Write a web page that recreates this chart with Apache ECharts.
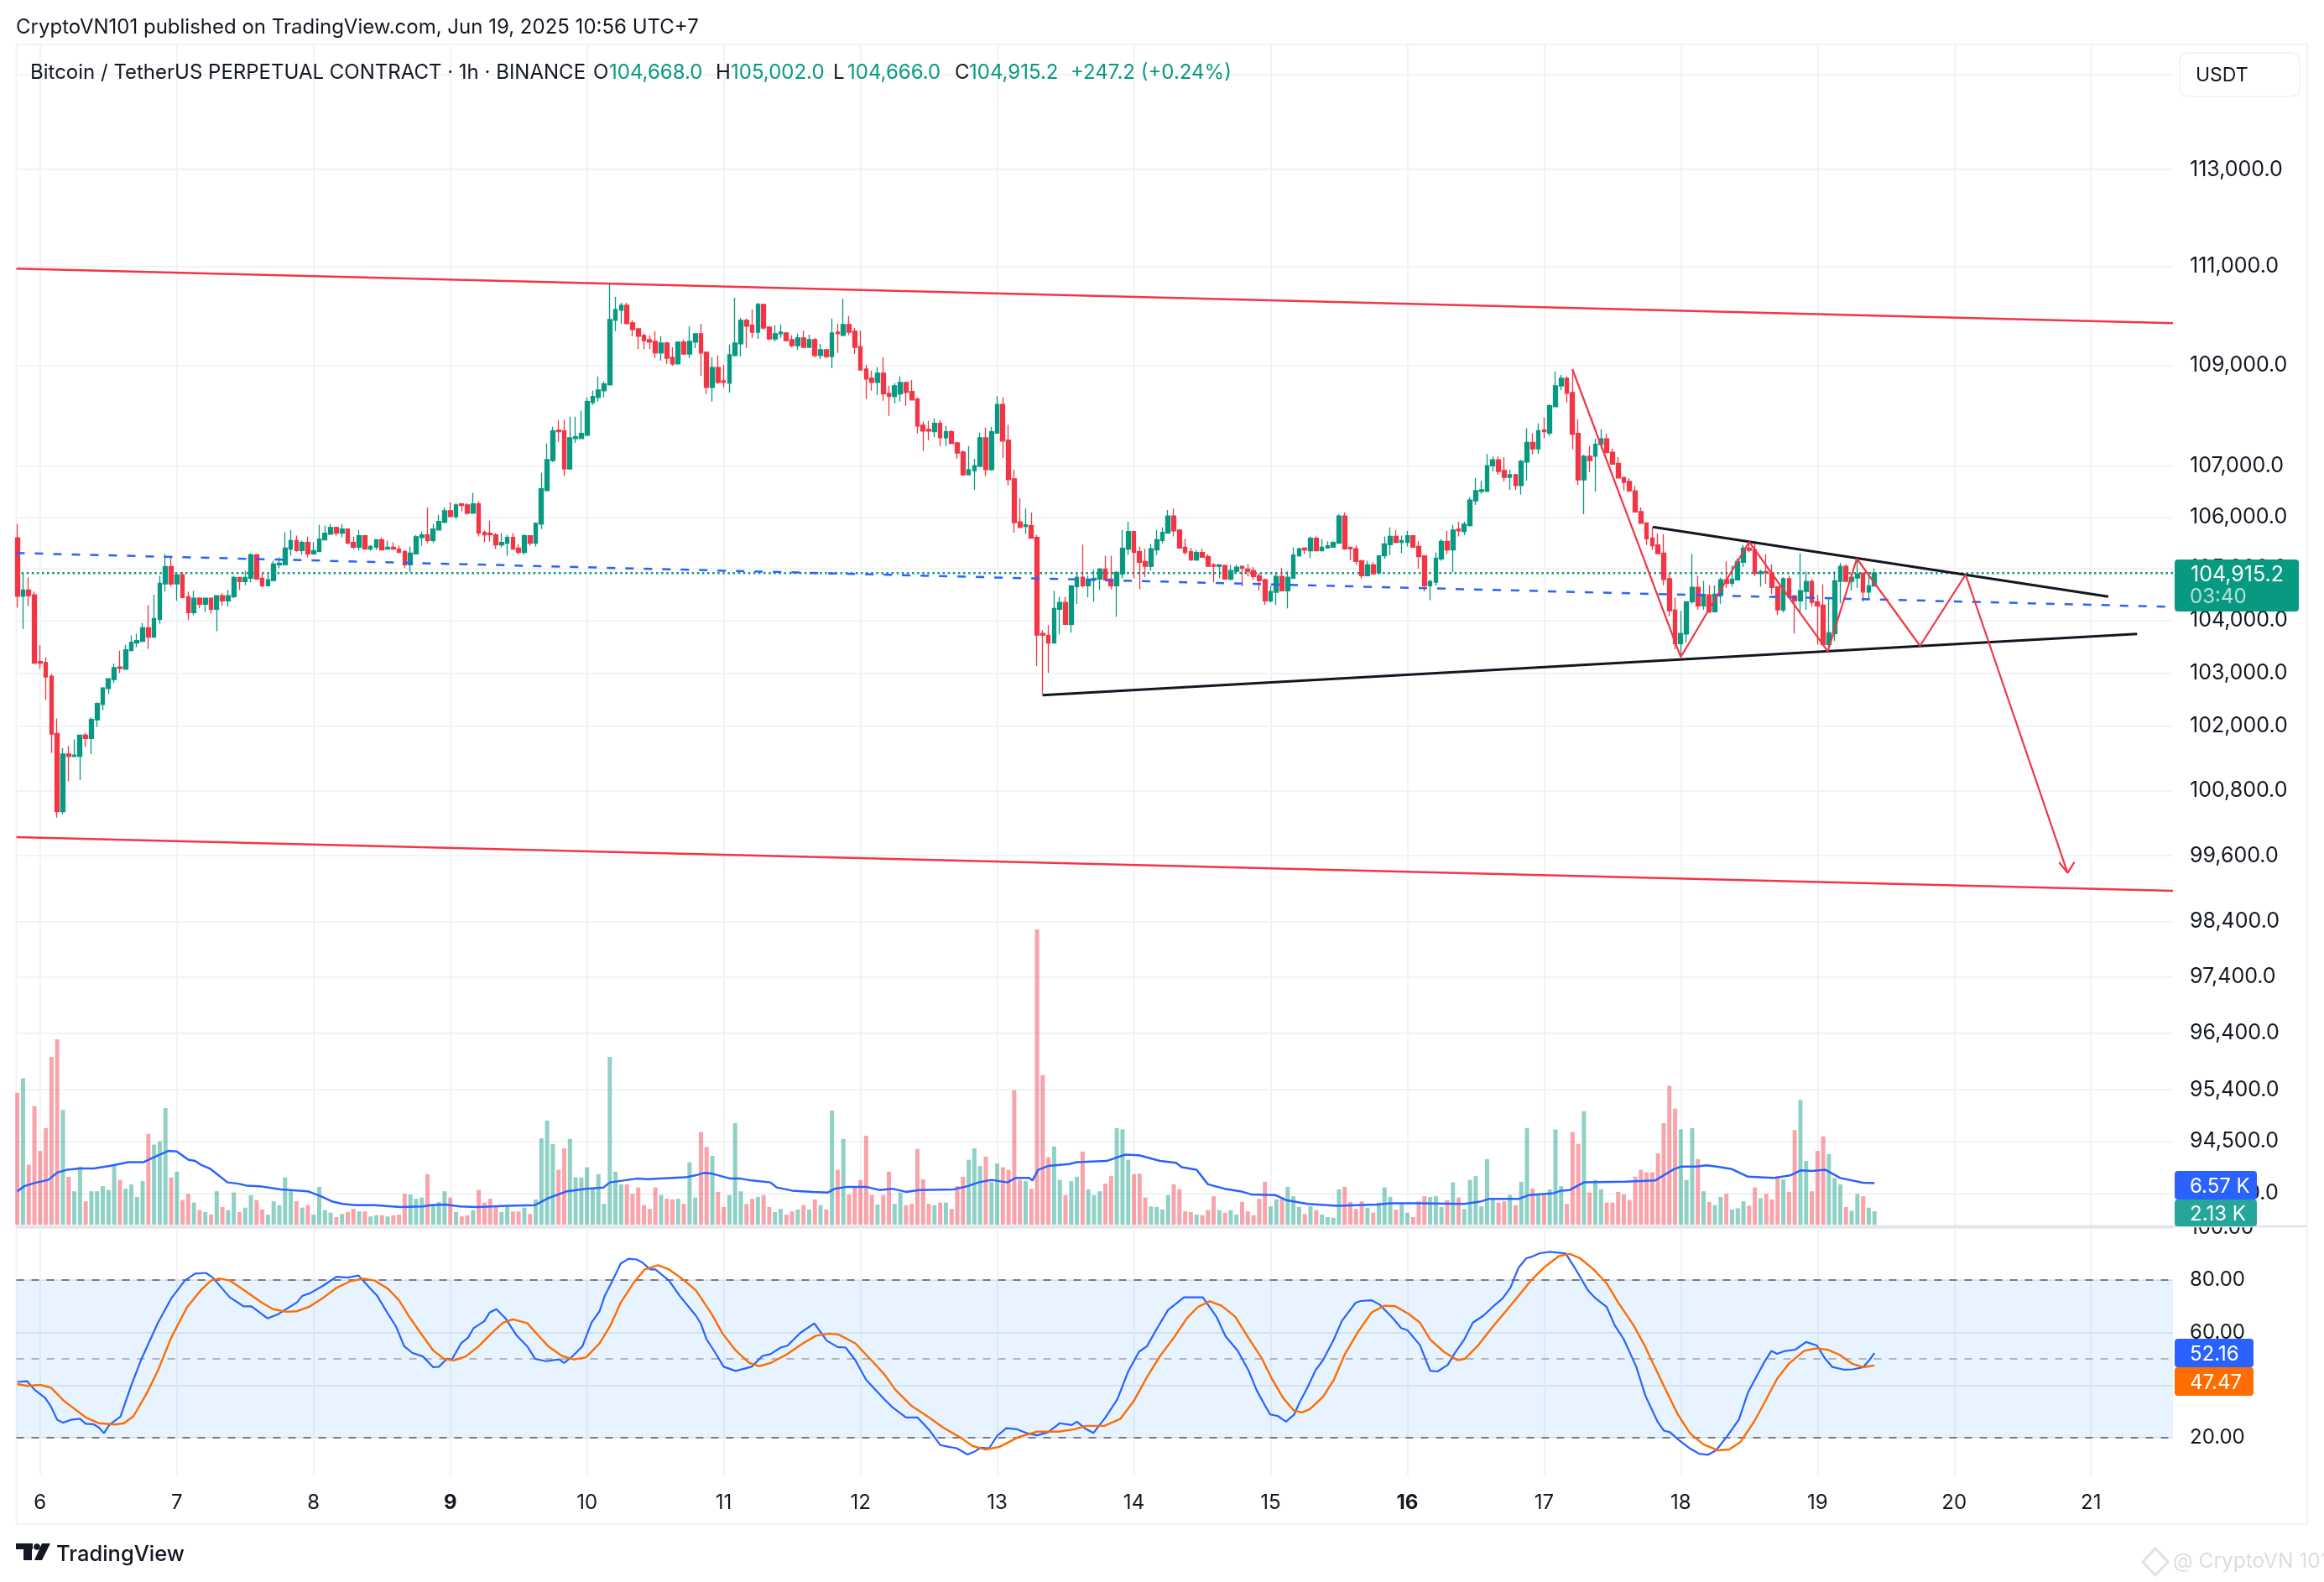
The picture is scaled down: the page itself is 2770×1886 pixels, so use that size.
<!DOCTYPE html>
<html><head><meta charset="utf-8">
<style>html,body{margin:0;padding:0;background:#fff}#c{width:2770px;height:1886px}</style>
<script src="https://cdn.jsdelivr.net/npm/echarts@6/dist/echarts.min.js"></script>
</head><body><div id="c"></div>
<script>
// First candle is hour -4 relative to Jun 6 00:00 (UTC+7). Rows: open, high, low, close
const firstHour = -4;
const candleRows = [
[105600,105865,104250,104470],[104470,104925,103840,104590],[104590,104830,104280,104480],[104495,104560,103175,103190],
[103220,103535,103080,103190],[103200,103300,102490,102930],[102945,102985,101500,101855],[101865,102145,100300,100410],
[100410,101590,100360,101480],[101480,101635,100970,101435],[101435,101755,101420,101460],[101435,101840,100995,101835],
[101835,101875,101610,101770],[101770,102165,101480,102130],[102120,102450,101990,102430],[102410,102735,102300,102720],
[102710,102895,102610,102895],[102880,103185,102815,103105],[103120,103430,103000,103090],[103075,103540,103075,103445],
[103430,103720,103430,103590],[103575,103750,103495,103620],[103605,103960,103590,103865],[103865,104300,103460,103685],
[103685,104495,103685,104040],[104025,104865,103945,104720],[104705,105285,104560,105040],[105040,105235,104655,104705],
[104705,104930,104380,104880],[104880,104930,104430,104445],[104460,104560,104010,104155],[104155,104575,104105,104430],
[104430,104445,104235,104315],[104315,104430,104170,104430],[104430,104445,104140,104220],[104220,104480,103800,104480],
[104480,104525,104285,104380],[104380,104590,104270,104480],[104460,104865,104430,104830],[104830,104830,104590,104750],
[104750,104960,104685,104830],[104815,105300,104735,105270],[105270,105285,104785,104800],[104815,104915,104640,104670],
[104670,104900,104670,104785],[104770,105155,104770,105090],[105075,105220,105010,105105],[105075,105705,105075,105400],
[105380,105750,105250,105545],[105545,105640,105330,105350],[105350,105545,105270,105510],[105510,105620,105220,105285],
[105285,105510,105285,105350],[105330,105850,105330,105575],[105560,105835,105560,105690],[105670,105865,105670,105800],
[105800,105815,105640,105690],[105690,105865,105605,105770],[105770,105770,105480,105495],[105510,105620,105380,105415],
[105415,105750,105350,105640],[105640,105640,105380,105380],[105380,105460,105350,105430],[105415,105560,105365,105560],
[105560,105605,105365,105365],[105380,105545,105380,105415],[105415,105510,105365,105380],[105380,105445,105315,105315],
[105330,105365,105010,105075],[105075,105430,104930,105300],[105285,105655,105285,105620],[105605,105720,105445,105655],
[105655,106190,105495,105545],[105545,105865,105495,105770],[105750,106045,105750,105915],[105900,106190,105880,106125],
[106125,106290,106010,106010],[106010,106275,105960,106240],[106260,106275,106110,106230],[106240,106275,106045,106075],
[106075,106475,106075,106260],[106260,106310,105625,105690],[105705,105735,105510,105655],[105690,105930,105525,105655],
[105655,105690,105380,105460],[105460,105690,105415,105510],[105495,105655,105250,105605],[105605,105690,105365,105380],
[105400,105480,105285,105315],[105315,105670,105270,105640],[105640,105640,105445,105495],[105495,105900,105430,105880],
[105865,106870,105770,106555],[106520,107445,106505,107128],[107110,107780,107080,107695],[107710,107910,107480,107680],
[107695,107910,106800,106945],[106945,107980,106945,107560],[107545,107980,107460,107580],[107545,108095,107545,107645],
[107610,108360,107595,108280],[108260,108495,108210,108380],[108360,108780,108280,108510],[108495,108680,108360,108630],
[108610,110640,108610,109925],[109910,110385,109690,110130],[110115,110265,109840,110215],[110215,110265,109840,109840],
[109860,109910,109590,109725],[109740,109740,109330,109590],[109605,109640,109330,109500],[109520,109605,109330,109470],
[109485,109690,109145,109250],[109250,109590,109095,109450],[109450,109470,109030,109145],[109165,109365,108995,109030],
[109030,109485,109030,109470],[109470,109520,109215,109230],[109230,109790,109145,109485],[109470,109640,109350,109640],
[109640,109840,108795,109250],[109265,109280,108430,108560],[108560,109165,108280,108960],[108960,109200,108630,108660],
[108695,109010,108560,108660],[108645,109420,108460,109215],[109200,110365,109180,109450],[109435,109960,109180,109910],
[109910,109945,109350,109790],[109810,110130,109550,109670],[109670,110265,109535,110230],[110230,110230,109725,109755],
[109775,109790,109520,109535],[109535,109810,109485,109640],[109640,109825,109550,109670],[109655,109670,109485,109500],
[109520,109605,109365,109400],[109400,109640,109315,109555],[109555,109705,109365,109365],[109365,109620,109365,109520],
[109520,109555,109165,109200],[109200,109435,109130,109315],[109315,109330,109145,109180],[109180,109945,108945,109655],
[109670,109840,109250,109640],[109605,110350,109590,109825],[109825,109995,109605,109670],[109690,109755,109230,109365],
[109380,109705,108910,108910],[108930,109010,108330,108730],[108745,108895,108495,108660],[108660,108960,108410,108845],
[108845,109165,108295,108430],[108445,108595,107995,108380],[108380,108645,108240,108595],[108430,108780,108280,108660],
[108660,108660,108195,108460],[108480,108710,108310,108310],[108330,108360,107645,107795],[107810,107880,107295,107695],
[107725,107895,107510,107695],[107680,107945,107575,107845],[107845,107910,107395,107560],[107560,107795,107395,107680],
[107680,107710,107445,107445],[107460,107480,107145,107260],[107280,107310,106815,106830],[106830,107395,106830,106930],
[106910,107145,106535,107010],[106995,107660,106995,107560],[107560,107760,106800,106930],[106930,107780,106910,107680],
[107650,108385,107645,108220],[108220,108360,107160,107495],[107510,107815,106620,106735],[106750,106930,105700,105895],
[105910,106370,105800,105800],[105820,106170,105670,105850],[105835,106090,105590,105590],[105608,105655,103140,103725],
[103755,103820,102610,103725],[103720,103915,103010,103575],[103575,104575,103575,104235],[104220,104460,103740,104350],
[104350,104460,103930,103930],[103930,104685,103770,104670],[104655,104900,104320,104835],[104835,105465,104640,104670],
[104670,104865,104445,104800],[104785,104980,104365,104815],[104800,105010,104590,104995],[104995,105250,104770,104785],
[104800,105250,104605,104670],[104670,104960,104075,104930],[104900,105750,104815,105395],[105380,105910,105265,105720],
[105720,105720,104815,105315],[105330,105430,104605,105125],[105140,105385,104835,105045],[105045,105480,104965,105385],
[105365,105750,105265,105560],[105545,105800,105490,105705],[105690,106140,105690,106025],[106025,106170,105625,105735],
[105750,105750,105385,105400],[105415,105575,105270,105315],[105330,105400,105155,105170],[105170,105365,105155,105315],
[105315,105385,105205,105220],[105235,105285,105045,105045],[105075,105110,104735,105045],[105045,105090,104815,105075],
[105060,105075,104800,104800],[104800,105075,104770,104965],[104950,105075,104915,105030],[105045,105060,104655,105010],
[104995,105090,104850,104950],[104965,105030,104785,104850],[104865,104915,104575,104770],[104785,104815,104300,104380],
[104380,104670,104350,104560],[104545,104930,104300,104850],[104850,105010,104575,104575],[104575,104945,104235,104835],
[104815,105415,104800,105265],[105250,105400,105235,105385],[105400,105415,105285,105365],[105345,105625,105205,105590],
[105590,105625,105345,105345],[105345,105575,105345,105415],[105400,105530,105400,105445],[105415,105530,105415,105510],
[105495,106060,105495,106025],[106025,106090,105365,105385],[105415,105415,105165,105385],[105385,105445,105075,105140],
[105155,105155,104815,104865],[104865,105155,104865,105075],[105075,105125,104880,104900],[104915,105250,104900,105250],
[105250,105625,105190,105480],[105465,105800,105265,105625],[105625,105750,105490,105510],[105510,105640,105300,105545],
[105510,105735,105430,105640],[105640,105640,105415,105415],[105430,105530,105000,105235],[105250,105250,104560,104670],
[104670,104785,104395,104755],[104740,105315,104670,105205],[105190,105575,105155,105530],[105530,105735,105285,105365],
[105365,105850,104930,105750],[105770,105910,105625,105735],[105720,105910,105650,105865],[105835,106390,105815,106335],
[106320,106770,106240,106520],[106505,106715,106455,106535],[106505,107240,106505,107010],[107005,107190,106895,107125],
[107125,107190,106830,106895],[106915,107175,106700,106780],[106780,106930,106535,106830],[106830,106845,106535,106620],
[106620,107125,106440,107095],[107080,107750,106715,107470],[107470,107650,107225,107340],[107340,107845,107240,107700],
[107715,107960,107550,107680],[107650,108225,107600,108195],[108178,108880,108178,108595],[108590,108810,108510,108745],
[108745,108780,108260,108445],[108460,108930,107330,107630],[107645,107930,106630,106730],[106730,107225,106060,107195],
[107195,107395,106880,107110],[107195,107540,106500,107430],[107430,107730,107345,107540],[107540,107640,107265,107265],
[107275,107345,107040,107040],[107055,107180,106765,106765],[106780,106790,106520,106680],[106700,106765,106490,106515],
[106515,106610,106100,106100],[106110,106190,105880,105880],[105890,105900,105460,105580],[105595,105810,105365,105445],
[105460,105680,105290,105290],[105300,105670,104680,104790],[104805,104925,104085,104190],[104205,104440,103455,103560],
[103560,104190,103310,103755],[103745,104375,103580,104365],[104365,105285,104325,104640],[104640,104865,104210,104285],
[104285,104765,104210,104510],[104495,104680,104145,104170],[104170,104680,104170,104510],[104495,104830,104325,104785],
[104785,105140,104630,104720],[104720,105060,104655,104800],[104785,105195,104785,105140],[105125,105460,105030,105400],
[105400,105525,105315,105355],[105365,105490,104855,104910],[104910,104980,104655,104945],[104945,105285,104710,104920],
[104915,105085,104510,104640],[104655,104655,104110,104205],[104205,104835,104155,104805],[104805,104865,104440,104460],
[104475,104495,103755,104380],[104380,105300,104170,104575],[104560,104945,104210,104755],[104755,104800,104270,104350],
[104365,104495,103545,104285],[104300,104700,103530,103545],[103545,104415,103420,103770],[103755,104945,103610,104765],
[104755,105115,104335,105045],[105045,105085,104755,104755],[104755,104900,104575,104835],[104820,105195,104630,104900],
[104915,104925,104370,104550],[104550,104940,104405,104670],[104668,105002,104666,104915.2]
];
// Volume per hour, thousands of BTC
const volumesK = [
20.9,23.2,9.5,18.8,11.7,15.3,26.6,29.4,18.2,7.6,5.3,9.2,3.7,5.3,5.3,6.1,5.5,9.3,7.1,5.7,6.4,4.4,6.9,14.4,12.7,13.2,18.5,7.5,8.4,3.9,
4.9,3.5,2.3,2.0,1.6,5.3,2.8,2.3,5.1,2.0,2.7,4.7,3.9,2.4,1.6,3.7,3.1,7.5,5.3,3.7,2.7,3.1,1.6,6.0,2.3,1.9,1.2,1.7,2.0,2.5,
2.1,2.1,1.3,1.5,1.5,1.3,1.5,1.6,4.9,4.8,4.1,4.3,8.0,3.1,3.6,5.3,4.3,2.0,1.3,1.5,2.3,5.5,3.5,4.1,2.8,2.0,2.9,2.1,2.1,2.7,
1.7,4.0,13.7,16.5,12.8,8.7,12.1,13.6,7.5,7.5,9.1,5.7,8.0,3.3,26.6,8.4,6.4,6.4,4.9,5.9,3.1,2.5,5.9,4.7,4.1,4.0,4.1,3.3,9.9,4.3,
14.7,12.3,10.9,5.2,2.8,4.7,16.1,5.3,3.3,4.1,4.4,4.7,2.8,2.0,2.5,1.6,2.1,2.4,3.1,2.4,4.0,3.1,2.4,18.1,8.7,13.6,4.8,5.9,7.1,14.1,
4.7,3.2,4.7,8.4,3.3,5.1,3.1,3.3,12.0,7.2,3.3,3.1,3.5,3.5,2.5,6.1,7.6,10.3,12.1,9.3,10.8,6.8,9.7,9.1,8.7,21.3,7.1,6.9,5.7,46.8,
23.7,10.7,12.4,7.1,4.7,6.9,7.6,11.6,5.6,4.7,5.3,6.5,7.7,15.3,15.1,10.3,8.0,8.1,4.3,2.9,2.8,2.4,4.7,6.4,5.6,2.1,2.0,1.6,1.5,2.3,
4.5,2.3,1.9,2.3,1.6,3.6,2.1,1.5,4.1,6.8,2.9,4.0,4.1,6.0,4.5,2.8,1.7,2.9,2.3,1.6,1.2,1.1,5.6,6.0,3.6,2.5,3.7,2.7,1.9,3.5,
5.9,4.4,2.4,3.3,1.9,1.2,3.7,4.5,4.4,4.5,2.8,3.9,6.7,4.3,2.5,7.1,7.7,2.9,10.4,4.0,3.5,3.7,4.7,3.1,6.8,15.3,5.7,4.8,4.7,5.6,
15.1,6.1,3.3,14.7,12.8,18.0,5.1,7.1,5.6,3.5,3.5,5.2,4.8,3.9,7.6,8.7,8.3,8.3,11.3,16.1,22.0,18.4,15.1,7.1,15.3,10.4,5.3,3.6,3.1,4.4,
4.9,2.4,2.6,3.7,3.0,5.9,4.2,4.9,4.0,7.7,7.2,5.2,15.0,19.8,10.1,5.3,11.7,14.0,11.2,7.4,6.4,2.8,2.2,4.9,4.5,2.7,2.13
];
// Volume moving average read at its bends: [hour, K]
const volumeMA = [[-4,5.3],[-2.8,6.1],[-1,6.6],[1.4,7.1],[3.1,8.3],[4.7,8.7],[7,8.9],[9.4,8.9],[12.2,9.3],[15.5,9.9],[18.1,9.9],[20.7,11],[22.5,11.7],[24,11.6],[26,10.3],[27.2,10.1],[28.2,9.5],[29.8,8.9],[32.9,6.7],[34.8,6.5],[36.2,6.2],[38.5,6.1],[42.3,5.6],[47,5.3],[48.4,4.8],[49.3,4.5],[51.2,3.7],[53.1,3.3],[55.4,3.1],[58.7,3.1],[63.2,2.8],[67.2,2.9],[68.6,3.1],[71.1,3.2],[73.7,2.9],[76.6,2.8],[82.2,3],[86.9,3.1],[89.2,4.2],[92.5,5.3],[95.8,5.7],[98.9,5.9],[100,6.7],[104.7,7.3],[106.6,7.2],[113.2,7.5],[115,7.8],[116.5,8.2],[117.9,8.1],[121.2,7.3],[123,7.3],[124.9,7],[128.2,6.7],[129.3,5.9],[132,5.4],[135.7,5.2],[138.3,5.1],[139.5,5.7],[141.6,6],[145,6],[147.3,5.5],[149.6,5.7],[152,5.2],[154.3,5.5],[160.4,5.6],[162.8,6.1],[164.7,6.7],[167,7.1],[169.8,6.7],[171.2,7.4],[173.6,7.4],[174.2,7],[175.2,8.7],[176.9,9.3],[180.6,9.6],[182,9.9],[187.2,10.1],[190.5,11.1],[192.9,11],[196.6,10.1],[199.4,9.8],[200.4,9.1],[203,8.7],[205,6.4],[207.9,5.7],[210.7,5.3],[212.6,4.8],[216.8,4.7],[218.7,3.9],[222.5,3.3],[227.6,3],[234.7,3.2],[237.1,3.4],[241.7,3.4],[250,3.3],[253,3.7],[254.4,4.1],[259.6,4.1],[261.4,4.7],[265.7,5],[267,5.4],[268.5,5.5],[271,6.7],[278.3,6.8],[283.5,7],[286.8,8.8],[288,9.2],[290.7,9.2],[292.5,9.4],[294.3,9.2],[297,8.8],[299.8,7.6],[304.3,7.4],[307.2,7.8],[309,8.6],[311,8.5],[313.4,8.7],[316,7.4],[320,6.65],[322,6.57]];
// RSI and its moving average read at their bends: [hour, value]
const rsiLine = [[-4,41.2],[-2.3,41.5],[-1,38.3],[0.9,35.1],[1.9,31.9],[3,26.8],[4,25.7],[5.6,26.9],[7,27.2],[8,25.3],[9.4,25.1],[10.3,23.9],[11.2,21.7],[12.2,25],[14.1,28],[16,39.9],[17.8,50],[20.7,63.8],[23,72.9],[25.4,79.8],[27.2,82.4],[29.1,82.7],[30.3,80.9],[33.3,73.4],[35.7,70],[37.1,70],[39.9,65.4],[41.8,67],[45.1,71.5],[46,73.9],[47.4,75],[49.8,78],[52,81.2],[54,80.9],[55.9,81.7],[57.8,77.1],[59.2,73.9],[61.1,67],[62.5,62.2],[63.9,54.8],[65.3,52.3],[67.2,50.9],[69,46.8],[70,47],[71.4,50],[72.3,49.8],[73.9,55.9],[75.1,58],[76.1,61.7],[78,64.4],[78.9,67.6],[80.1,68.9],[81.7,65.4],[83.6,59],[85.5,54.8],[86.9,50],[88.8,49.1],[91.1,49.8],[92,48.4],[93.5,51.1],[95.2,54.8],[96.8,63.8],[98.2,68.1],[99.1,73.9],[100.5,79.8],[101.9,86.2],[103.3,88.1],[104.7,87.8],[105.7,86.7],[107.1,84],[108,84],[110.4,79.8],[112.3,73.9],[115.1,66.5],[116,63.3],[117,57.4],[118.4,52.7],[120,47],[122.1,45.4],[124.9,47],[126.8,51.1],[128.2,51.8],[130,54.3],[131.2,55],[133.4,59.8],[135.9,63.5],[138.1,56.9],[140,54.5],[141.4,54.3],[143.1,49.5],[145,42],[148.2,34.6],[149.7,31.4],[152,27.7],[154,27.7],[156.2,22.6],[158,17.2],[159.5,16.5],[160.9,16],[162.8,13.6],[164.2,14.9],[165.1,16.2],[166.6,16],[168,20.7],[169.6,23.6],[171.5,23.2],[173.1,21.8],[175,20.9],[176.9,22],[179,25.5],[181.1,24.8],[182,26.1],[183.5,23.4],[184.9,21.8],[187,27.7],[189.1,34.6],[191,45.2],[192.9,52.7],[194.3,54.8],[196.1,61.7],[198,68.6],[200.8,73.4],[204.1,73.4],[206.5,66],[208.1,58.5],[210.2,53.2],[212.1,45.7],[213.5,38.3],[215.1,31.9],[215.9,28.9],[217.3,28.2],[218.7,26.1],[220.1,28.7],[221.1,33.5],[222.4,38.8],[223.9,45.7],[225.2,49.5],[227.1,57.4],[228.5,64.4],[230.9,71.3],[231.8,72],[233.7,72.3],[235.1,70.7],[237.5,65.4],[238.9,61.7],[240,60.9],[242.2,55.3],[244,45.5],[245.3,45.2],[247.1,47.7],[248.3,52.1],[250,57.4],[251.5,63.8],[253.4,66.5],[255.3,70.4],[256.7,72.9],[258.1,77.1],[259.5,84.6],[260.9,88.3],[261.9,88.9],[263.3,90.2],[265.1,90.7],[267.8,90.1],[269.4,84.6],[271.7,76.1],[273.1,72.9],[275,69.7],[276.4,62.8],[278,57.4],[280.2,46.9],[281.8,35.9],[283.9,26.2],[285,22.7],[286.1,22.1],[287.5,19.4],[289.6,15.9],[291.2,13.9],[292.8,13.5],[294.2,15.2],[296.1,20.4],[298.2,26.9],[299.8,37.2],[301.4,43.7],[302.7,48.9],[303.9,53],[304.9,51.9],[306.3,53],[308.1,53.5],[310,56.4],[311.9,55.1],[313.3,50.2],[314.6,46.9],[316.6,45.9],[318.2,46],[320,46.8],[321.1,49.5],[322,52.16]];
const rsiMA = [[-4,40.4],[-2.3,39.7],[0,40.1],[1.9,39],[4.2,34],[8,27.7],[10.3,25.5],[13.2,25],[14.7,25.5],[16.4,28.2],[18.8,37.2],[20.7,45.7],[23,58],[25.8,69.7],[28.2,76.1],[30,79.8],[31.5,80.6],[33.3,79.8],[36.2,75.5],[39,71.3],[40.9,68.9],[43.2,67.9],[45.1,68.1],[47.4,70],[49.8,73.4],[52.1,77.1],[54.5,79.6],[56.8,80.5],[58.7,79.8],[61.1,76.6],[63,72.3],[64.8,66],[66.7,60.1],[69,53.2],[70.9,50],[72.6,49.4],[74.7,50.9],[77,54.8],[79.4,60.1],[81.3,63.8],[83,65],[85.5,63.6],[87.4,59],[89.2,54.8],[91.6,51.1],[93.7,49.8],[95.8,50.5],[98.2,55.9],[100,62.2],[101.9,71.3],[104.3,79.3],[106.1,84],[108.5,85.6],[110.4,84],[112.8,80.3],[115.1,76.1],[117.9,67],[119.8,59.6],[122.1,53.2],[124.5,48.4],[126.2,47.2],[128.2,48.4],[131,51.6],[133.9,55.9],[136.2,58.8],[138.6,59.6],[140.2,59.2],[143.1,55.9],[145.9,49.5],[148.2,44.1],[150.1,38.3],[152.9,32.2],[155.7,28.2],[158.5,23.9],[161.8,19.7],[163.7,16.8],[166,15.5],[168.4,16.5],[171.7,20.2],[175,22.3],[178.8,22.3],[181.6,23.2],[183.5,24.5],[186.8,24.5],[189.6,27.1],[192,34],[194.3,43.1],[196.6,51.1],[199,58],[201.3,65.4],[203.2,69.7],[205.3,71.9],[207.4,70.2],[209.8,66],[212.1,58],[214.5,50],[216.3,42.1],[218.2,35.1],[220.1,30.3],[221.5,29.6],[222.9,30.9],[225.2,35.6],[227.1,42],[229,51.6],[231.3,60.1],[233.7,67.6],[236,70.2],[237.9,70],[240.3,67],[242.2,63.8],[244,57.4],[246.4,52.7],[248.8,49.5],[250.1,50],[252.5,55.3],[254.8,61.7],[257.1,67.6],[259.5,73.9],[261.9,80.3],[264.2,85.1],[266.6,89.1],[268.5,89.9],[270.3,88.3],[272.7,84],[275,78.7],[276.9,71.8],[279.7,62.8],[281.6,55.3],[283,48.9],[285,39.8],[287.5,28.8],[289.6,21.7],[292,17.4],[294.5,15.2],[296.5,15.5],[298.5,18.4],[300.9,26.2],[303,34.6],[304.9,42.4],[307,48.2],[309.6,53],[311.8,54],[313.9,53.4],[315.9,51.5],[318,48.2],[320,46.8],[321.1,47.2],[322,47.47]];
// Drawings in chart space: [hour, price]
const channelTop = [[-4.17,110959],[374.4,109851]];
const channelBottom = [[-4.17,99941],[374.4,98958]];
const blueTrend = [[-4.17,105303],[374.4,104265]];
const triangleLow = [[175.95,102585],[368.1,103748]];
const triangleHigh = [[283.1,105808],[363.05,104461]];
const zigzag = [[268.97,108928],[288,103307],[300,105520],[313.8,103413],[318.9,105194],[330,103519],[338,104886],[355.9,99286]];
const arrowHead = [[354.4,99479],[355.9,99286],[357.1,99479]];
const lastPrice = 104915.2;
const hourMin = -4.17, hourMax = 374.4;
const priceTicks = [115000,113000,111000,109000,107000,106000,105000,104000,103000,102000,100800,99600,98400,97400,96400,95400,94500,93600];
const dayTicks = [0,24,48,72,96,120,144,168,192,216,240,264,288,312,336,360];
const dayLabels = ['6','7','8','9','10','11','12','13','14','15','16','17','18','19','20','21'];
const boldDays = ['9','16'];
const rsiTicks = [20,40,60,80,100];
const rsiLevels = [[80,'#787B86'],[50,'#B2B5BE'],[20,'#787B86']];

const GREEN='#089981', RED='#F23645', BLUE='#2962FF', ORANGE='#FF6D00', GRID='#F2F3F5', FONT='Inter, Roboto, sans-serif', INK='#131722';
const hours = candleRows.map((_,i)=>i+firstHour);
const candleData = candleRows.map((r,i)=>[hours[i],r[0],r[3],r[2],r[1]]);
const volData = volumesK.map((v,i)=>[hours[i],v]);
const chart = echarts.init(document.getElementById('c'),null,{renderer:'canvas',width:2770,height:1886});
const fmtPrice = v => Number(v).toLocaleString('en-US',{minimumFractionDigits:1,maximumFractionDigits:1});
function line(name,data,color,width,extra){return Object.assign({type:'line',name,data,showSymbol:false,symbol:'none',silent:true,animation:false,lineStyle:{color,width},xAxisIndex:0,yAxisIndex:0,z:4},extra||{});}
function txt(x,y,text,fill,size,extra){return {type:'text',x,y,z:50,silent:true,style:Object.assign({text,fill,fontSize:size,fontFamily:FONT,verticalAlign:'middle'},extra||{})};}
function box(x,y,w,h,fill,r){return {type:'rect',z:49,silent:true,shape:{x,y,width:w,height:h,r:r||0},style:{fill}};}
const LS=24;
const graphic=[
  {type:'rect',z:0,silent:true,shape:{x:19.5,y:53,width:2730.5,height:1764},style:{fill:'none',stroke:'#F0F3FA',lineWidth:2}},
  {type:'line',z:5,silent:true,shape:{x1:19.5,y1:1462,x2:2750,y2:1462},style:{stroke:'#E0E3EB',lineWidth:2.5}},
  txt(19,33,'CryptoVN101 published on TradingView.com, Jun 19, 2025 10:56 UTC+7',INK,LS),
  txt(36,87,'Bitcoin / TetherUS PERPETUAL CONTRACT · 1h · BINANCE',INK,LS),
  txt(707,87,'O',INK,LS),txt(726,87,'104,668.0',GREEN,LS),
  txt(853,87,'H',INK,LS),txt(871,87,'105,002.0',GREEN,LS),
  txt(993,87,'L',INK,LS),txt(1010,87,'104,666.0',GREEN,LS),
  txt(1138,87,'C',INK,LS),txt(1155,87,'104,915.2',GREEN,LS),
  txt(1276,87,'+247.2 (+0.24%)',GREEN,LS),
  {type:'rect',z:49,silent:true,shape:{x:2598,y:63,width:143,height:52,r:10},style:{fill:'#fff',stroke:'#F0F3FA',lineWidth:2}},
  txt(2617,90,'USDT',INK,23),
  box(2592,667,148,62,GREEN,4),
  txt(2611,685,'104,915.2','#fff',25),txt(2610,712,'03:40','rgba(255,255,255,0.7)',24),
  box(2592,1396,98,34,BLUE,4),txt(2610,1415,'6.57 K','#fff',24),
  box(2592,1430,98,32,'#26A69A',4),txt(2610,1448,'2.13 K','#fff',24),
  box(2592,1596,94,34,BLUE,4),txt(2610,1615,'52.16','#fff',24),
  box(2592,1630,94,34,ORANGE,4),txt(2610,1649,'47.47','#fff',24),
  // TradingView mark
  box(19,1840,20,7,'#131722'),box(28,1840,10,20,'#131722'),
  {type:'circle',z:49,silent:true,shape:{cx:44,cy:1844,r:3.8},style:{fill:'#131722'}},
  {type:'polygon',z:49,silent:true,shape:{points:[[50,1840],[60,1840],[50,1860],[41,1860]]},style:{fill:'#131722'}},
  txt(67,1853,'TradingView',INK,25.5,{fontWeight:500}),
  // watermark
  {type:'polygon',z:49,silent:true,shape:{points:[[2569,1846],[2584,1862],[2569,1878],[2554,1862]]},style:{fill:'none',stroke:'#E2E2E2',lineWidth:3}},
  txt(2590,1862,'@ CryptoVN 101','#DDDDDD',24.5)
];
const baseX = (show)=>({type:'value',min:hourMin,max:hourMax,axisLine:{show:false},axisTick:{show:false,customValues:dayTicks},
  splitLine:{show:true,lineStyle:{color:GRID,width:2}},
  axisLabel:show?{show:true,customValues:dayTicks,margin:20,color:INK,fontSize:24,fontFamily:FONT,hideOverlap:false,
    formatter:v=>{const d=dayLabels[dayTicks.indexOf(v)];return boldDays.includes(d)?'{b|'+d+'}':d;},
    rich:{b:{fontWeight:'bold',fontSize:24,fontFamily:FONT,color:INK}}}:{show:false,customValues:dayTicks}});
chart.setOption({
  animation:false,backgroundColor:'#fff',
  grid:[
    {left:19.5,width:2570.5,top:53,height:1408},
    {left:19.5,width:2570.5,top:1060,height:400},
    {left:19.5,width:2570.5,top:1463.3,height:296.7}
  ],
  xAxis:[Object.assign(baseX(false),{gridIndex:0}),Object.assign(baseX(false),{gridIndex:1,splitLine:{show:false}}),Object.assign(baseX(true),{gridIndex:2})],
  yAxis:[
    {gridIndex:0,type:'log',logBase:10,min:93048,max:115632,position:'right',axisLine:{show:false},axisTick:{show:false,customValues:priceTicks},
      splitLine:{show:true,lineStyle:{color:GRID,width:2}},
      axisLabel:{show:true,customValues:priceTicks,margin:20,color:INK,fontSize:25,fontFamily:FONT,hideOverlap:false,formatter:fmtPrice,showMinLabel:true,showMaxLabel:true,padding:[4,0,0,0]}},
    {gridIndex:1,type:'value',min:0,max:53.2,show:false,splitLine:{show:false}},
    {gridIndex:2,type:'value',min:5.3,max:100,position:'right',axisLine:{show:false},axisTick:{show:false,customValues:rsiTicks},
      splitLine:{show:true,lineStyle:{color:'#E8ECF0',width:2}},
      axisLabel:{show:true,customValues:rsiTicks,margin:20,color:INK,fontSize:24,fontFamily:FONT,hideOverlap:false,formatter:v=>Number(v).toFixed(2),padding:[4,0,0,0]}}
  ],
  series:[
    {type:'bar',name:'Volume',xAxisIndex:1,yAxisIndex:1,data:volData,barWidth:5,silent:true,animation:false,z:1,
      itemStyle:{color:p=>{const r=candleRows[p.dataIndex];return r[3]>=r[0]?'rgba(8,153,129,0.45)':'rgba(242,54,69,0.45)';}}},
    line('Volume MA',volumeMA,BLUE,2.5,{xAxisIndex:1,yAxisIndex:1,z:2}),
    {type:'candlestick',name:'BTCUSDT',xAxisIndex:0,yAxisIndex:0,data:candleData,encode:{x:0,y:[1,2,3,4]},barWidth:5.2,silent:true,animation:false,z:3,clip:true,
      itemStyle:{color:GREEN,color0:RED,borderColor:GREEN,borderColor0:RED,borderWidth:1.3}},
    line('Last price',[[hourMin,lastPrice],[hourMax,lastPrice]],GREEN,2.5,{lineStyle:{color:GREEN,width:2.5,type:[2.5,3.6]},z:3}),
    line('Blue trend',blueTrend,BLUE,2.5,{lineStyle:{color:BLUE,width:2.5,type:[10,12]}}),
    line('Channel top',channelTop,RED,2.5),
    line('Channel bottom',channelBottom,RED,2.5),
    line('Triangle low',triangleLow,'#131722',3),
    line('Triangle high',triangleHigh,'#131722',3),
    line('Projection',zigzag,RED,2.2,{z:5}),
    line('Arrow',arrowHead,RED,2.2,{z:5}),
    {type:'line',name:'RSI',xAxisIndex:2,yAxisIndex:2,data:rsiLine,showSymbol:false,symbol:'none',silent:true,animation:false,lineStyle:{color:BLUE,width:2.2},z:4,
      markArea:{silent:true,z:1,itemStyle:{color:'rgba(33,150,243,0.11)'},label:{show:false},data:[[{yAxis:20},{yAxis:80}]]}},
    {type:'line',name:'RSI MA',xAxisIndex:2,yAxisIndex:2,data:rsiMA,showSymbol:false,symbol:'none',silent:true,animation:false,lineStyle:{color:ORANGE,width:2.4},z:5,
      markLine:{silent:true,symbol:'none',animation:false,z:3,label:{show:false},
        data:rsiLevels.map(l=>({yAxis:l[0],lineStyle:{color:l[1],width:2.2,type:[9,9]}}))}}
  ],
  graphic
});
</script></body></html>
